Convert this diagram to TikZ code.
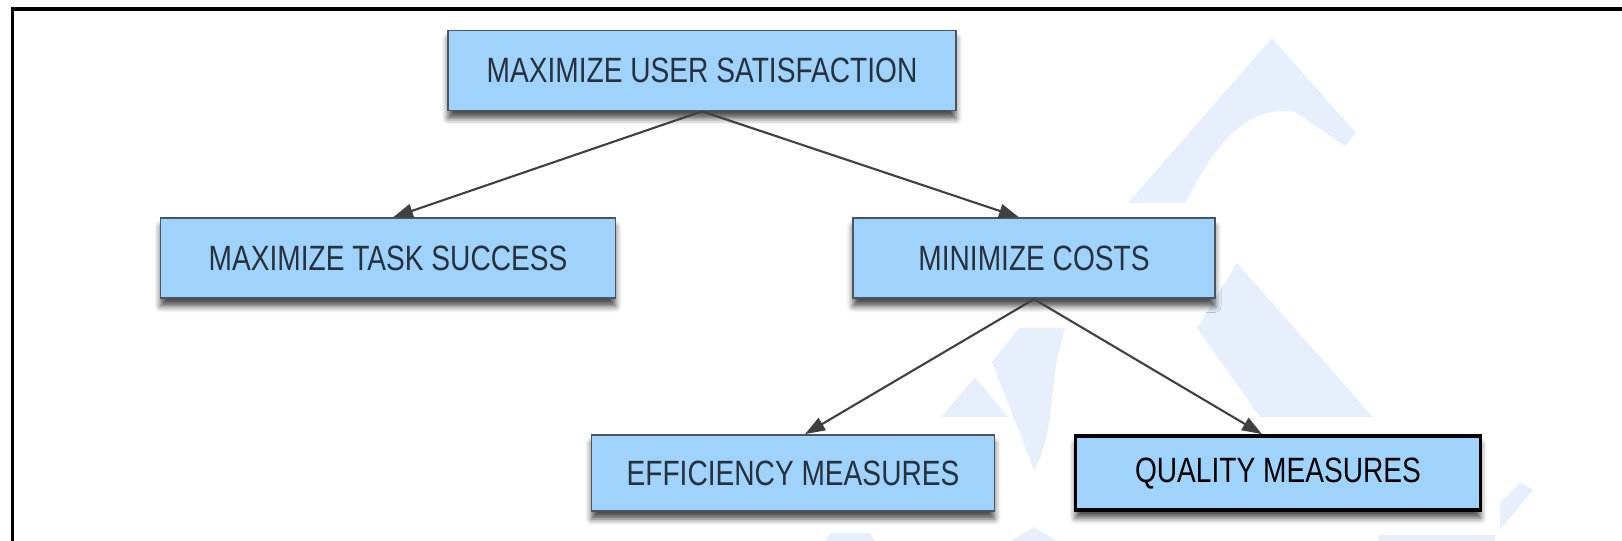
\documentclass[tikz,border=0pt]{standalone}
\usepackage{fontspec}
\usetikzlibrary{arrows.meta, positioning, shadows.blur}
\newfontfamily\boxfont[FakeStretch=0.8]{Liberation Sans}
\definecolor{skyfill}{HTML}{9FD3FB}
\definecolor{slate}{HTML}{27313D}
\definecolor{edgegray}{HTML}{4A5561}
\definecolor{watermark}{HTML}{E7EEFC}
\tikzset{
  box/.style={
    rectangle, draw=edgegray, fill=skyfill, line width=0.5pt,
    minimum height=0.8cm, inner sep=0pt,
    font=\boxfont\fontsize{10}{12}\selectfont, text=slate,
    blur shadow={shadow xshift=0pt, shadow yshift=-0.08cm, shadow opacity=70, shadow blur radius=0.06cm}
  },
  keybox/.style={box, draw=black, line width=1.1pt, text=black},
  arrow/.style={-{Triangle[length=2mm,width=1.4mm]}, line width=0.6pt, draw=black!75},
  wmark/.style={fill=watermark, draw=none},
}

\begin{document}
\begin{tikzpicture}
  \useasboundingbox (0,0) rectangle (16.22,-5.41);

  % faint logo behind the tree
  \fill[wmark] (12.72,-0.38) -- (11.28,-2.03) -- (11.85,-2.03)
    .. controls (12.15,-1.45) and (12.45,-1.05) .. (12.95,-1.12) -- (13.45,-1.46) -- (13.56,-1.33) -- cycle;
  \fill[wmark] (12.37,-2.63) -- (13.73,-4.17) -- (12.60,-4.17) -- (11.97,-3.28) -- cycle;
  \fill[wmark] (10.19,-3.28) -- (10.65,-3.28) -- (10.57,-3.60)
    .. controls (10.50,-4.0) and (10.52,-4.4) .. (10.34,-4.70) -- (9.92,-3.62) -- cycle;
  \fill[wmark] (9.75,-3.77) -- (9.41,-4.17) -- (10.08,-4.17) -- cycle;
  \fill[wmark] (8.31,-5.33) -- (8.70,-5.33) -- (8.75,-5.41) -- (8.25,-5.41) -- cycle;
  \fill[wmark] (10.34,-5.27) -- (10.57,-5.41) -- (10.11,-5.41) -- cycle;
  \fill[wmark] (13.78,-5.35) -- (14.95,-5.35) -- (14.95,-5.41) -- (13.78,-5.41) -- cycle;
  \fill[wmark] (15.20,-4.82) -- (15.33,-4.90) -- (15.00,-5.30) -- (15.00,-5.03) -- cycle;

  % frame
  \draw[line width=1pt] (0.125,-5.6) -- (0.125,-0.09) -- (16.4,-0.09);

  \node[box, minimum width=5.08cm] (root) at (7.02,-0.705) {MAXIMIZE USER SATISFACTION};
  \node[box, minimum width=4.55cm, below=1.06cm of root, xshift=-3.14cm] (task) {MAXIMIZE TASK SUCCESS};
  \node[box, minimum width=3.62cm, below=1.06cm of root, xshift=3.32cm] (cost) {MINIMIZE COSTS};
  \node[box, minimum width=4.03cm, minimum height=0.76cm, below=1.35cm of cost, xshift=-2.41cm] (eff) {EFFICIENCY MEASURES};
  \node[keybox, minimum width=4.05cm, minimum height=0.74cm, below=1.35cm of cost, xshift=2.44cm] (qual) {QUALITY MEASURES};

  \draw[arrow] (root.south) -- ([xshift=0.05cm]task.north);
  \draw[arrow] (root.south) -- ([xshift=-0.15cm]cost.north);
  \draw[arrow] (cost.south) -- ([xshift=0.12cm]eff.north);
  \draw[arrow] (cost.south) -- ([xshift=-0.16cm]qual.north);
\end{tikzpicture}
\end{document}
